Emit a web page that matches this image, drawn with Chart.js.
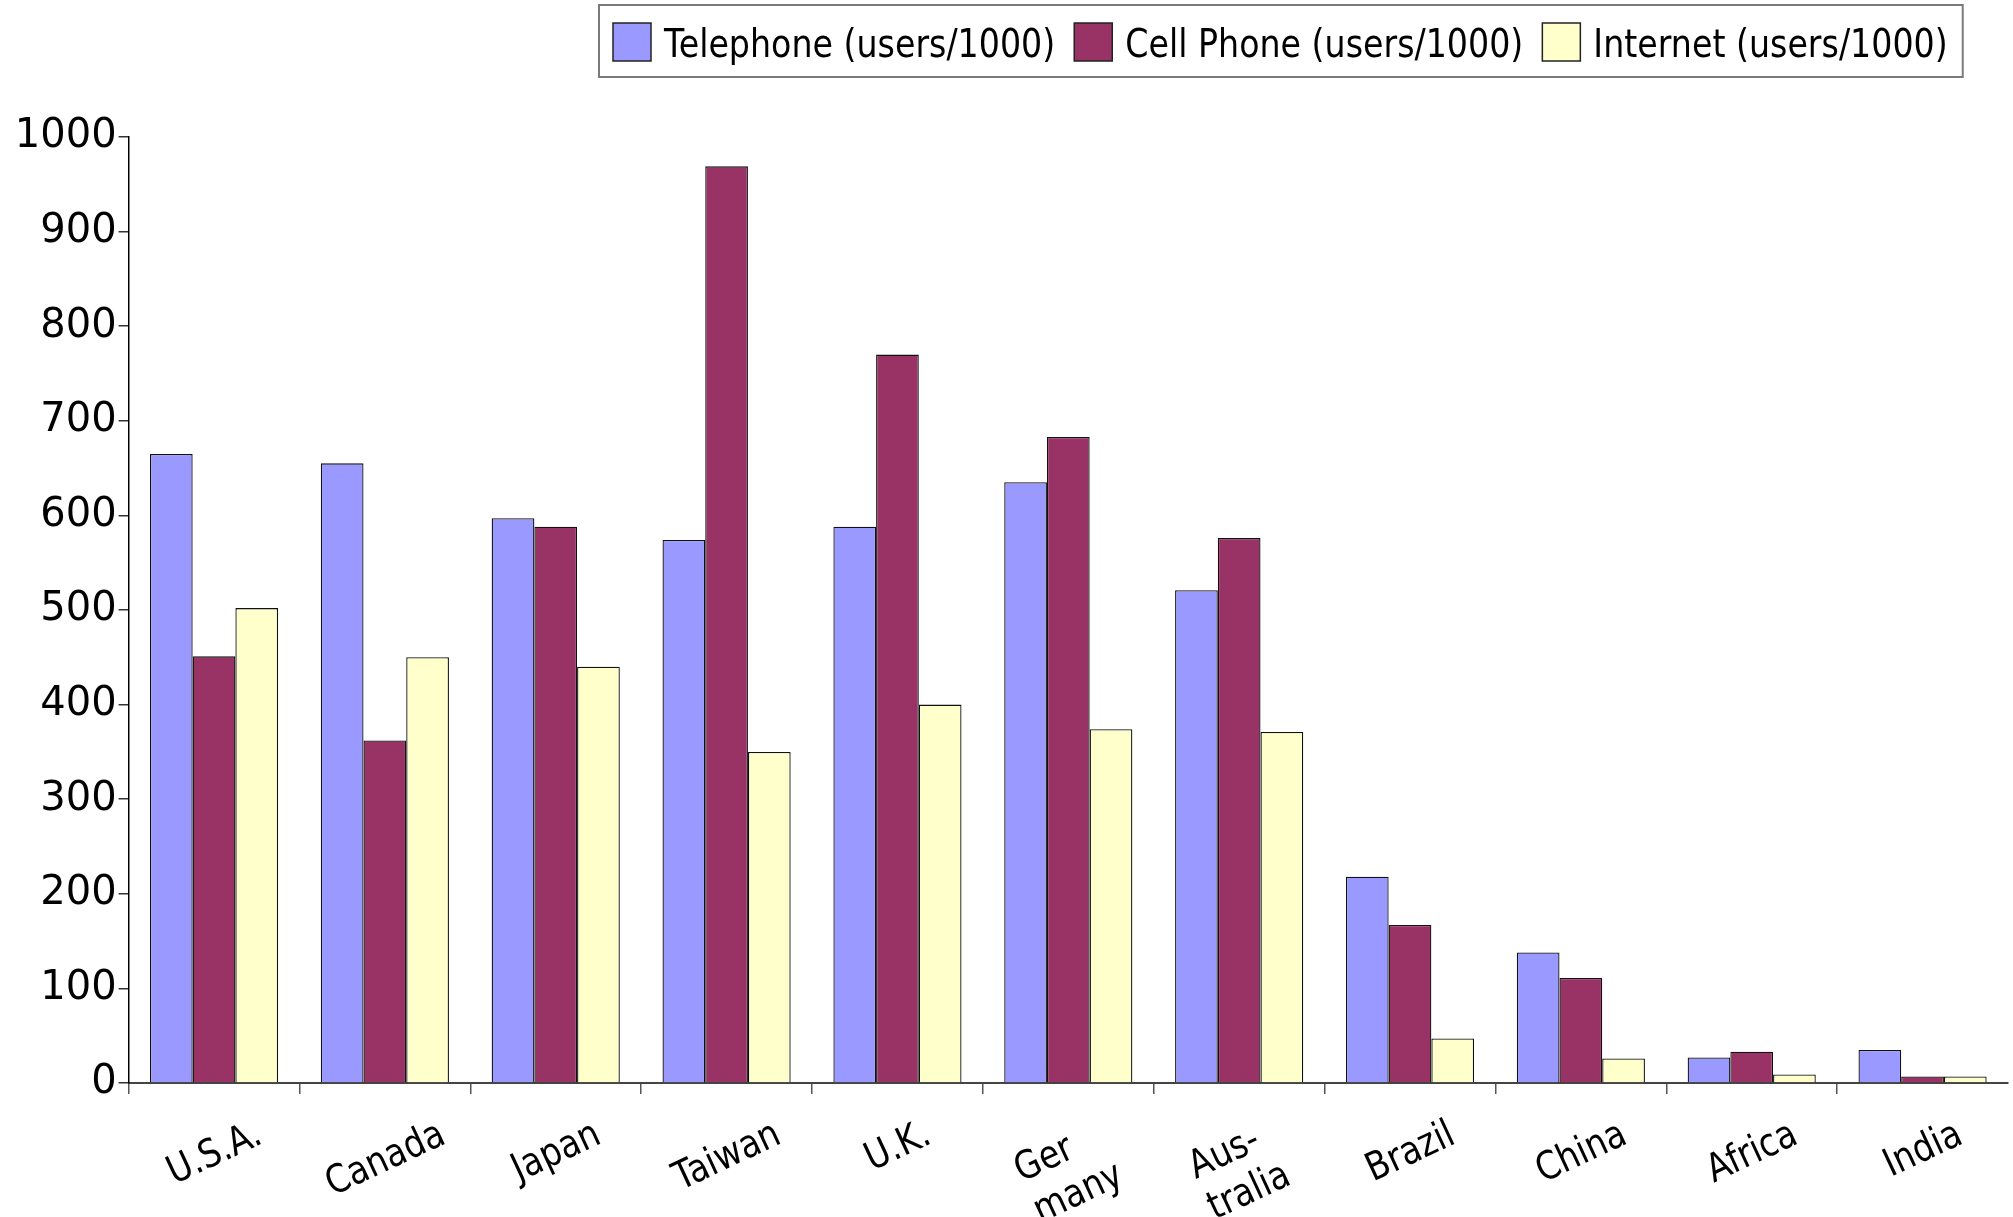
<!DOCTYPE html>
<html>
<head>
<meta charset="utf-8">
<title>Telephone, Cell Phone and Internet users per 1000</title>
<script src="https://cdn.jsdelivr.net/npm/chart.js@4/dist/chart.umd.min.js"></script>
<style>
  html, body { margin: 0; padding: 0; background: #ffffff; }
  #wrap { width: 2013px; height: 1217px; }
</style>
</head>
<body>
<div id="wrap"><canvas id="c" width="2013" height="1217"></canvas></div>
<script>
// Countries (multi-line entries are hyphenated labels)
const categories = ['U.S.A.', 'Canada', 'Japan', 'Taiwan', 'U.K.', ['Ger', 'many'], ['Aus-', 'tralia'], 'Brazil', 'China', 'Africa', 'India'];

// Users per 1000 inhabitants
const telephone = [665, 655, 597, 574, 588, 635, 521, 218, 138, 27, 35];
const cellPhone = [451, 362, 588, 969, 770, 683, 576, 167, 111, 33, 7];
const internet  = [502, 450, 440, 350, 400, 374, 371, 47, 26, 9, 7];

const seriesNames = ['Telephone (users/1000)', 'Cell Phone (users/1000)', 'Internet (users/1000)'];
const seriesColors = ['#9999ff', '#993366', '#ffffcc'];

// Y axis range and tick spacing
const yMin = 0;
const yMax = 1000;
const yStep = 100;

const FONT_FAMILY = '"DejaVu Sans", "Liberation Sans", sans-serif';
const TEXT_SIZE = 39;
const TEXT_STRETCH = 0.853;   // horizontal condensing of label type
const LABEL_ANGLE = 25 * Math.PI / 180;

// Draws a string horizontally condensed, starting at x
function drawCondensed(ctx, text, x, y) {
  ctx.save();
  ctx.translate(x, y);
  ctx.scale(TEXT_STRETCH, 1);
  ctx.textAlign = 'left';
  ctx.fillText(text, 0, 0);
  ctx.restore();
}

const legendBox = {
  id: 'legendBox',
  afterDraw(chart) {
    const ctx = chart.ctx;
    ctx.save();
    ctx.font = TEXT_SIZE + 'px ' + FONT_FAMILY;
    ctx.textBaseline = 'alphabetic';
    const left = 599, top = 5, bottom = 77;
    let x = left + 14;
    const items = [];
    seriesNames.forEach((name, i) => {
      const w = ctx.measureText(name).width * TEXT_STRETCH;
      items.push({ name, i, x, w });
      x += 51 + w + 19;
    });
    const right = items[items.length - 1].x + 51 + items[items.length - 1].w + 15;
    ctx.fillStyle = '#ffffff';
    ctx.fillRect(left, top, right - left, bottom - top);
    ctx.strokeStyle = '#7a7a7a';
    ctx.lineWidth = 2;
    ctx.strokeRect(left, top, right - left, bottom - top);
    items.forEach(it => {
      ctx.fillStyle = seriesColors[it.i];
      ctx.fillRect(it.x, 23, 38, 38);
      ctx.strokeStyle = '#222222';
      ctx.lineWidth = 1.5;
      ctx.strokeRect(it.x, 23, 38, 38);
      ctx.fillStyle = '#000000';
      drawCondensed(ctx, it.name, it.x + 51, 57);
    });
    ctx.restore();
  }
};

// Rotated country names centred under each category
const slantedLabels = {
  id: 'slantedLabels',
  afterDraw(chart) {
    const ctx = chart.ctx;
    const xs = chart.scales.x;
    const lineH = 45;
    const glyphH = 30;
    ctx.save();
    ctx.font = TEXT_SIZE + 'px ' + FONT_FAMILY;
    ctx.fillStyle = '#000000';
    ctx.textBaseline = 'middle';
    categories.forEach((lab, i) => {
      const lines = Array.isArray(lab) ? lab : [lab];
      const widths = lines.map(l => ctx.measureText(l).width * TEXT_STRETCH);
      const W = Math.max(...widths);
      const H = glyphH + (lines.length - 1) * lineH;
      const boxH = W * Math.sin(LABEL_ANGLE) + H * Math.cos(LABEL_ANGLE);
      const cx = xs.getPixelForValue(i);
      const cy = chart.chartArea.bottom + 35 + boxH / 2;
      ctx.save();
      ctx.translate(cx, cy);
      ctx.rotate(-LABEL_ANGLE);
      lines.forEach((l, j) => {
        drawCondensed(ctx, l, -W / 2, -H / 2 + glyphH / 2 + j * lineH + 2);
      });
      ctx.restore();
    });
    ctx.restore();
  }
};

const chart = new Chart(document.getElementById('c'), {
  type: 'bar',
  data: {
    labels: categories,
    datasets: [
      { label: seriesNames[0], data: telephone, backgroundColor: seriesColors[0] },
      { label: seriesNames[1], data: cellPhone, backgroundColor: seriesColors[1] },
      { label: seriesNames[2], data: internet, backgroundColor: seriesColors[2] }
    ].map(d => Object.assign(d, {
      borderColor: '#111111',
      borderWidth: 1.3,
      categoryPercentage: 0.75,
      barPercentage: 1.0
    }))
  },
  options: {
    responsive: false,
    animation: false,
    devicePixelRatio: 1,
    layout: { padding: { top: 137, right: 5, left: 0, bottom: 0 } },
    plugins: {
      legend: { display: false },
      tooltip: { enabled: false },
      title: { display: false }
    },
    scales: {
      x: {
        type: 'category',
        offset: true,
        ticks: { display: false },
        grid: {
          offset: true,
          drawOnChartArea: false,
          drawTicks: true,
          tickLength: 11,
          lineWidth: 1.5,
          color: c => (c.type === 'tick' ? '#555555' : 'rgba(0,0,0,0)')
        },
        border: { display: true, color: '#444444', width: 2 },
        afterFit: s => { s.height = 134; }
      },
      y: {
        min: yMin,
        max: yMax,
        ticks: {
          stepSize: yStep,
          color: '#000000',
          padding: 2,
          font: { family: FONT_FAMILY, size: 40 },
          callback: v => String(v)
        },
        grid: {
          drawOnChartArea: false,
          drawTicks: true,
          tickLength: 10,
          lineWidth: 1.5,
          color: '#333333'
        },
        border: { display: true, color: '#000000', width: 1.5 },
        afterFit: s => { s.width = 128.6; }
      }
    }
  },
  plugins: [legendBox, slantedLabels]
});
</script>
</body>
</html>
